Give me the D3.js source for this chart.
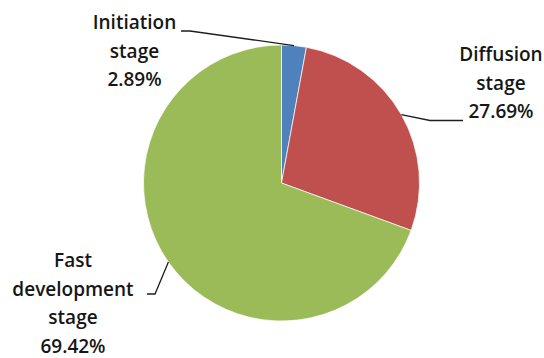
<!DOCTYPE html>
<html>
<head>
<meta charset="utf-8">
<script src="https://cdn.jsdelivr.net/npm/d3@7/dist/d3.min.js"></script>
<style>
  html, body { margin: 0; padding: 0; background: #fff; }
  svg { display: block; }
  text { font-family: "Open Sans", "Noto Sans", sans-serif; font-size: 19px; font-weight: 600; fill: #161616; }
</style>
</head>
<body>
<svg id="chart" width="544" height="358"></svg>
<script>
// Stages of development and their shares (%)
const stages = ["Initiation stage", "Diffusion stage", "Fast development stage"];
const shares = [2.89, 27.69, 69.42];
const colors = ["#4f81bd", "#c0504d", "#9bbb59"];

// Label text lines per stage
const labelLines = [
  ["Initiation", "stage"],
  ["Diffusion", "stage"],
  ["Fast", "development", "stage"]
];

const W = 544, H = 358;
const cx = 281.5, cy = 183, R = 138;

const svg = d3.select("#chart");
const g = svg.append("g").attr("transform", `translate(${cx},${cy})`);

const data = stages.map((s, i) => ({ stage: s, value: shares[i], color: colors[i], lines: labelLines[i] }));

const pie = d3.pie().value(d => d.value).sort(null).startAngle(0).endAngle(2 * Math.PI);
const arc = d3.arc().innerRadius(0).outerRadius(R);
const arcs = pie(data);

g.selectAll("path.slice")
  .data(arcs)
  .join("path")
  .attr("class", "slice")
  .attr("d", arc)
  .attr("fill", d => d.data.color)
  .attr("stroke", "#ffffff")
  .attr("stroke-width", 0.7);

// Label placement (block centre x, first baseline y) and leader bend points, in page coordinates
const labelLayout = [
  { x: 134.5, y: 29, bend: [[190, 31], [181, 31]] },
  { x: 501, y: 61, bend: [[430, 120.5], [463, 120.5]] },
  { x: 73, y: 267, bend: [[155, 294], [147, 294]] }
];
const lineGap = 28.5;

const fmt = v => d3.format(".2f")(v) + "%";

arcs.forEach((a, i) => {
  const L = labelLayout[i];
  // point on the rim at the middle of the slice
  const mid = (a.startAngle + a.endAngle) / 2;
  const px = cx + R * Math.sin(mid);
  const py = cy - R * Math.cos(mid);
  const pts = [[px, py], ...L.bend];
  svg.append("path")
    .attr("d", d3.line()(pts))
    .attr("fill", "none")
    .attr("stroke", "#1e1e1e")
    .attr("stroke-width", 1.3);

  const lines = [...a.data.lines, fmt(a.data.value)];
  const t = svg.append("text").attr("text-anchor", "middle");
  lines.forEach((ln, j) => {
    t.append("tspan")
      .attr("x", L.x)
      .attr("y", L.y + j * lineGap)
      .text(ln);
  });
});
</script>
</body>
</html>
